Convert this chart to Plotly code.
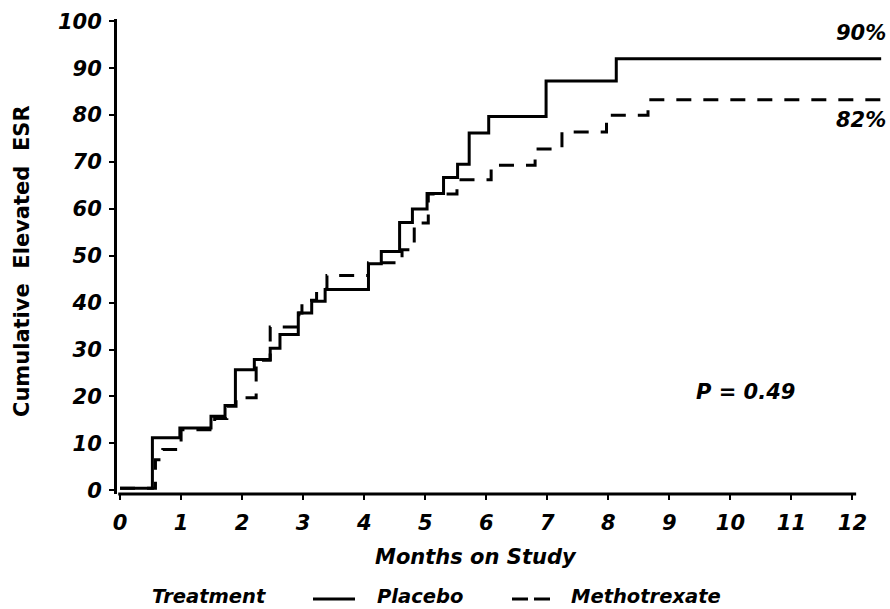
import plotly.graph_objects as go

# Placebo (solid) step curve: month of step, cumulative %
placebo_months = [0, 0.53, 0.98, 1.49, 1.72, 1.89, 2.20, 2.46, 2.62, 2.92, 3.14, 3.36,
                  4.07, 4.28, 4.58, 4.79, 5.03, 5.30, 5.53, 5.72, 6.04, 6.98, 8.13, 12.47]
placebo_pct = [0.4, 11.2, 13.3, 15.8, 18.1, 25.7, 27.9, 30.3, 33.2, 37.8, 40.3, 42.8,
               48.3, 50.9, 57.1, 60.0, 63.3, 66.7, 69.5, 76.2, 79.7, 87.3, 92.0, 92.0]

# Methotrexate (dashed) step curve
mtx_months = [0, 0.58, 0.70, 1.00, 1.55, 1.75, 1.90, 2.23, 2.46, 2.93, 2.98, 3.22, 3.39,
              4.07, 4.62, 4.82, 5.05, 5.52, 6.08, 6.80, 7.24, 7.97, 8.65, 12.47]
mtx_pct = [0.4, 6.5, 8.7, 12.9, 15.3, 17.9, 19.7, 27.7, 34.8, 37.8, 40.5, 43.0, 45.8,
           48.5, 51.3, 57.0, 63.2, 66.2, 69.3, 72.8, 76.4, 80.0, 83.3, 83.3]

x_ticks = list(range(0, 13))
y_ticks = list(range(0, 101, 10))

FONT = "DejaVu Sans"
bi = dict(family=FONT, size=21, color="black", weight="bold", style="italic")
leg = dict(family=FONT, size=19.5, color="black", weight="bold", style="italic")

W, H = 890, 609
ML, MR, MT, MB = 117, 7, 19, 115
PW, PH = W - ML - MR, H - MT - MB


def px_x(p):  # pixel -> paper x
    return (p - ML) / PW


def px_y(p):  # pixel -> paper y
    return (H - MB - p) / PH


fig = go.Figure()
fig.add_trace(go.Scatter(x=mtx_months, y=mtx_pct, mode="lines", line_shape="hv",
                         line=dict(color="black", width=3, dash="15px,12px"),
                         name="Methotrexate", showlegend=False, hoverinfo="skip"))
fig.add_trace(go.Scatter(x=placebo_months, y=placebo_pct, mode="lines", line_shape="hv",
                         line=dict(color="black", width=3),
                         name="Placebo", showlegend=False, hoverinfo="skip"))

legend_y = px_y(596)

fig.update_layout(
    width=W, height=H,
    margin=dict(l=ML, r=MR, t=MT, b=MB),
    paper_bgcolor="white", plot_bgcolor="white",
    showlegend=False,
    xaxis=dict(range=[-0.05, 12.5], tickvals=x_ticks, ticktext=[str(v) for v in x_ticks],
               showgrid=False, zeroline=False, showline=False,
               ticks="outside", ticklen=5, tickwidth=2, tickcolor="black",
               tickfont=bi, ticklabelstandoff=5),
    yaxis=dict(range=[-0.8, 100.5], tickvals=y_ticks, ticktext=[str(v) for v in y_ticks],
               showgrid=False, zeroline=False, showline=True, linecolor="black", linewidth=3,
               ticks="outside", ticklen=5, tickwidth=2, tickcolor="black",
               tickfont=bi, ticklabelstandoff=3),
    shapes=[
        dict(type="line", xref="x", yref="paper", x0=-0.03, x1=12.06, y0=0, y1=0,
             line=dict(color="black", width=3)),
        # legend keys
        dict(type="line", xref="paper", yref="paper", x0=px_x(313), x1=px_x(355),
             y0=px_y(599), y1=px_y(599), line=dict(color="black", width=3)),
        dict(type="line", xref="paper", yref="paper", x0=px_x(512), x1=px_x(550),
             y0=px_y(599), y1=px_y(599), line=dict(color="black", width=3, dash="16px,6px")),
    ],
    annotations=[
        dict(text="Cumulative\u00a0 Elevated\u00a0 ESR", xref="paper", yref="paper",
             x=px_x(22), y=px_y(261), textangle=-90, showarrow=False,
             xanchor="center", yanchor="middle",
             font=dict(family=FONT, size=21, color="black", weight="bold")),
        dict(text="Months on Study", xref="paper", yref="paper", x=px_x(476), y=px_y(557),
             showarrow=False, xanchor="center", yanchor="middle", font=bi),
        dict(text="Treatment", xref="paper", yref="paper", x=px_x(150), y=legend_y,
             showarrow=False, xanchor="left", yanchor="middle", font=leg),
        dict(text="Placebo", xref="paper", yref="paper", x=px_x(375), y=legend_y,
             showarrow=False, xanchor="left", yanchor="middle", font=leg),
        dict(text="Methotrexate", xref="paper", yref="paper", x=px_x(569), y=legend_y,
             showarrow=False, xanchor="left", yanchor="middle", font=leg),
        dict(text="90%", xref="paper", yref="paper", x=px_x(888), y=px_y(33),
             showarrow=False, xanchor="right", yanchor="middle", font=bi),
        dict(text="82%", xref="paper", yref="paper", x=px_x(888), y=px_y(120),
             showarrow=False, xanchor="right", yanchor="middle", font=bi),
        dict(text="P = 0.49", xref="x", yref="y", x=10.25, y=20.9,
             showarrow=False, xanchor="center", yanchor="middle", font=bi),
    ],
)

fig.write_html("out.html")
